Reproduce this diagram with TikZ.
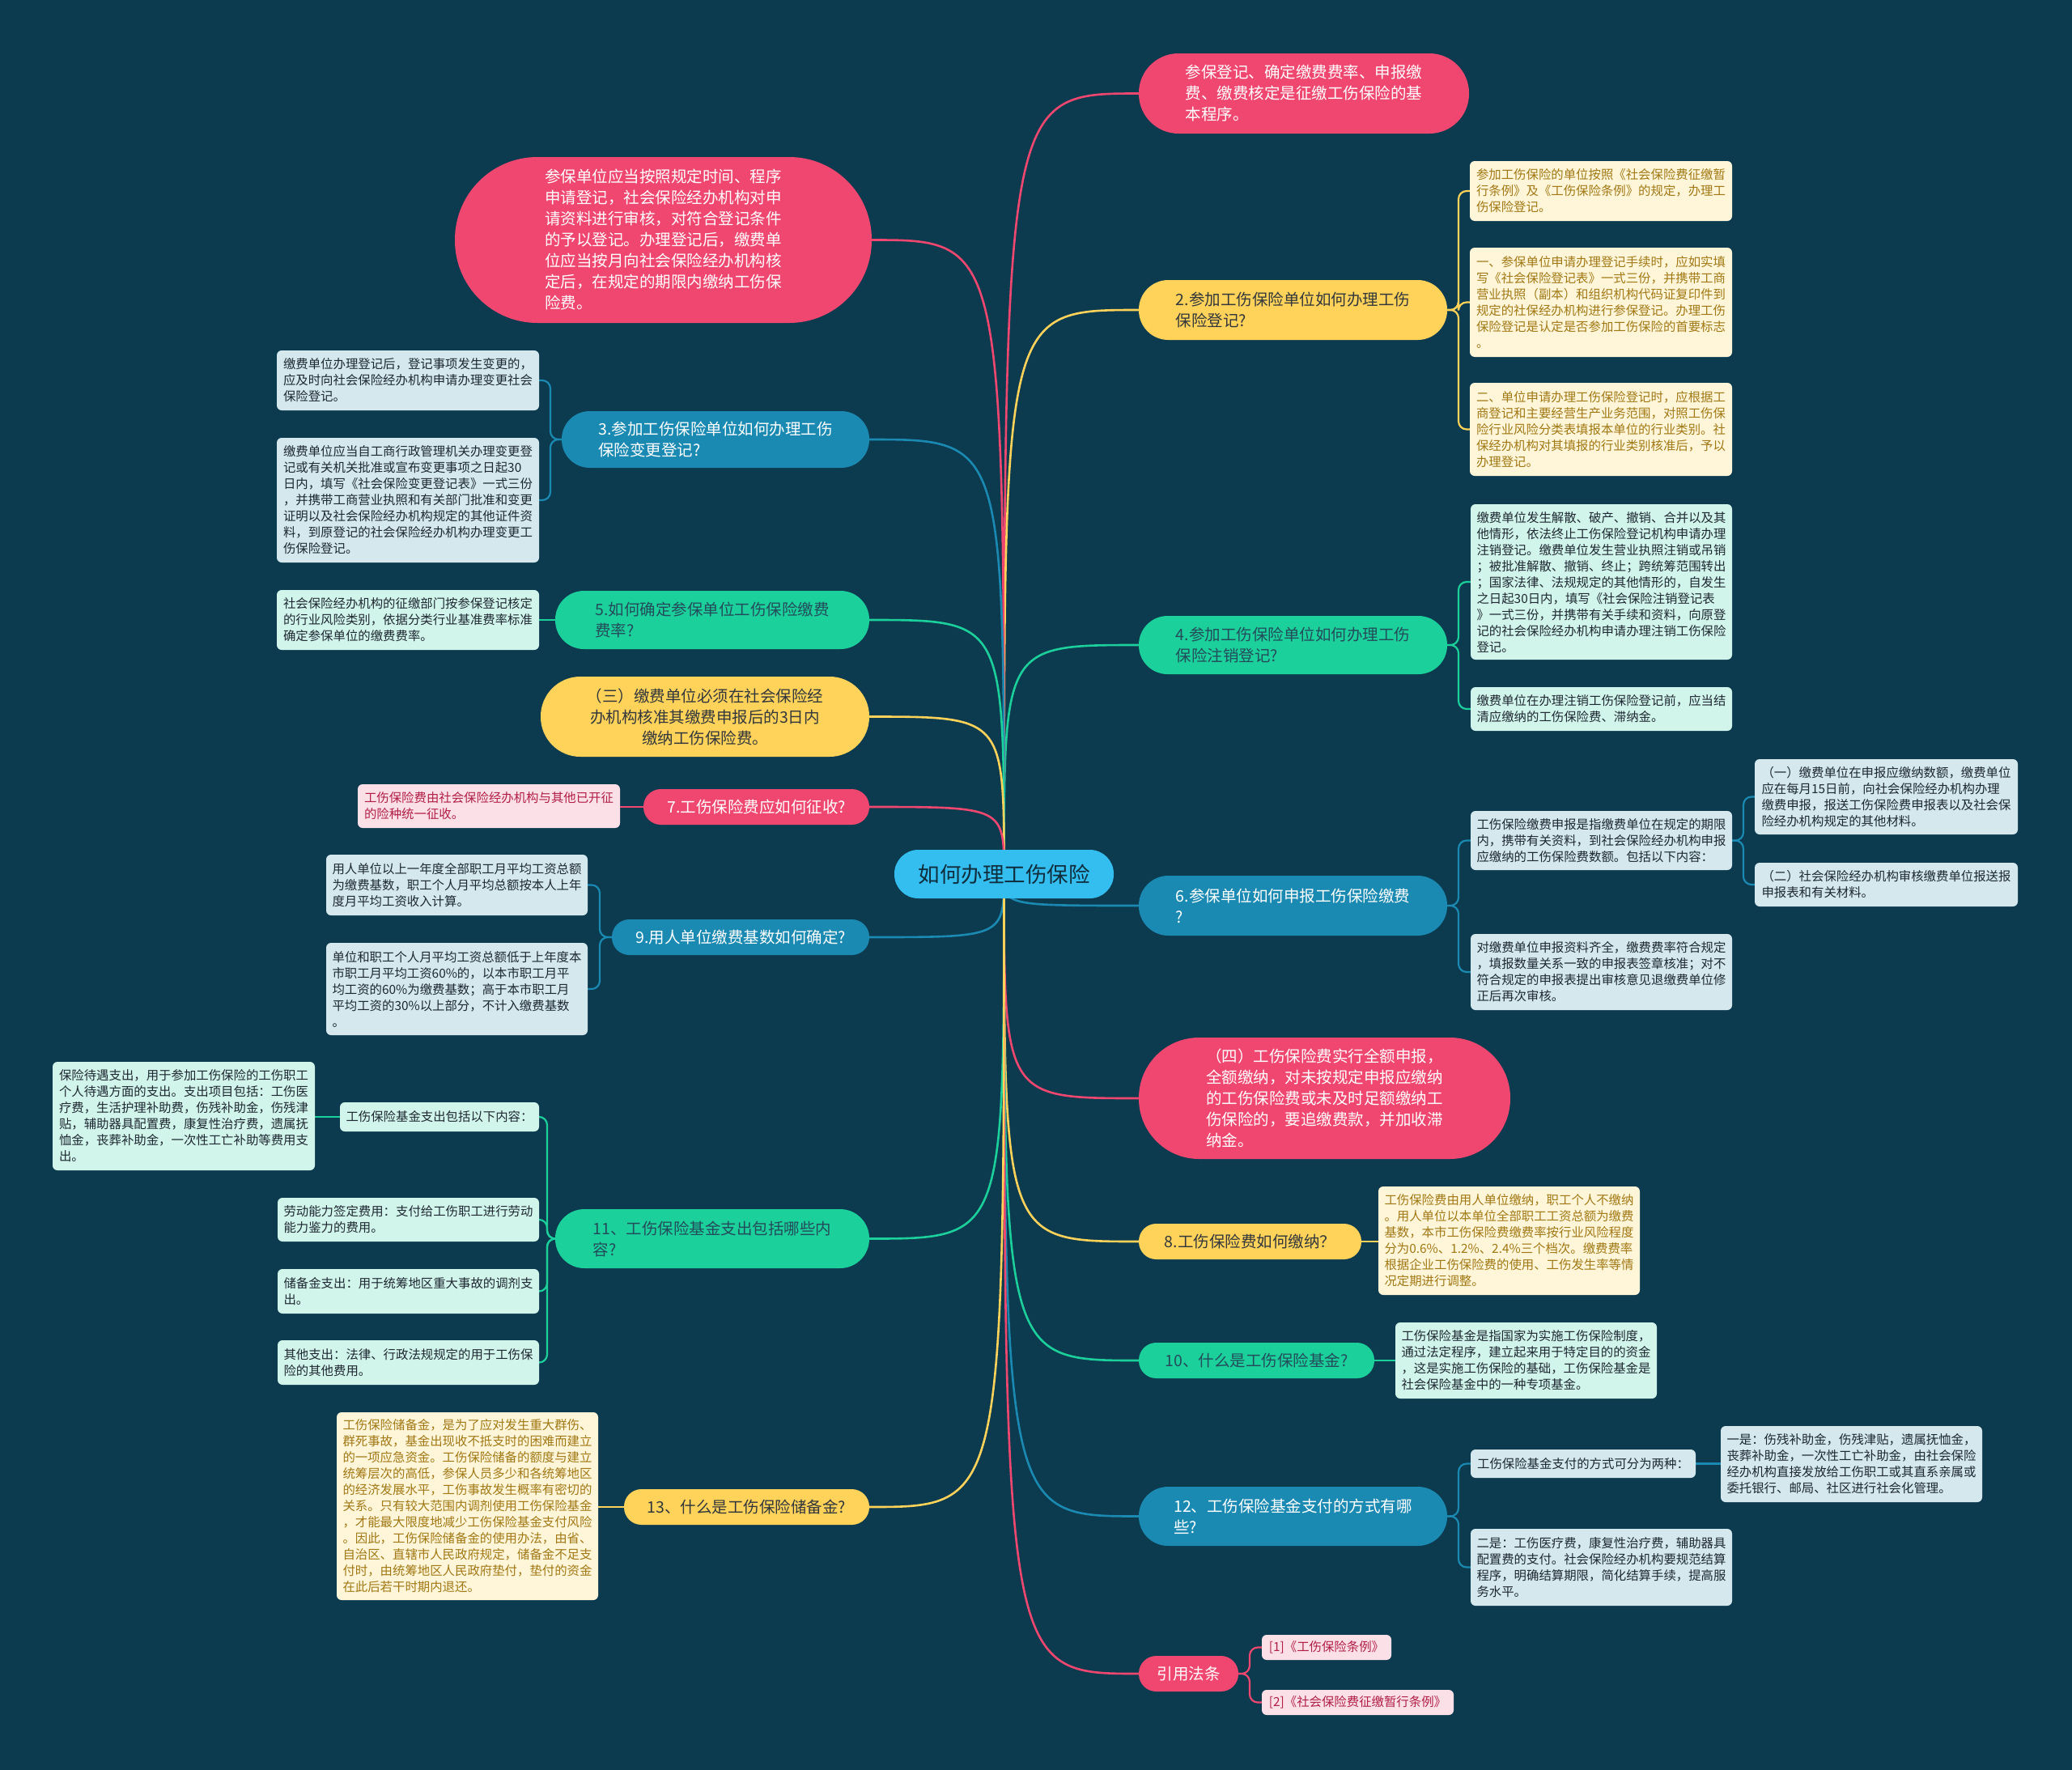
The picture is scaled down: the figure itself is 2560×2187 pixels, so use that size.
\documentclass[tikz,border=0pt]{standalone}
\usepackage{fontspec}
\setmainfont{Noto Sans CJK SC}
\usetikzlibrary{calc}
\pgfdeclarelayer{back}
\pgfdeclarelayer{links}
\pgfsetlayers{back,links,main}
\definecolor{bgc}{RGB}{12,58,78}
\definecolor{pinkc}{RGB}{239,71,111}
\definecolor{yelc}{RGB}{255,210,90}
\definecolor{grnc}{RGB}{28,208,156}
\definecolor{bluc}{RGB}{26,138,178}
\definecolor{rootc}{RGB}{52,190,240}
\definecolor{ynf}{RGB}{255,246,217}
\definecolor{ynt}{RGB}{160,120,20}
\definecolor{gnf}{RGB}{210,245,235}
\definecolor{bnf}{RGB}{212,232,238}
\definecolor{pnf}{RGB}{252,224,232}
\definecolor{pnt}{RGB}{176,30,70}
\definecolor{dtxt}{RGB}{30,40,50}
\definecolor{gtxt}{RGB}{35,75,90}
\definecolor{ytxt}{RGB}{50,55,60}
\definecolor{rtxt}{RGB}{15,45,60}
\tikzset{
 base/.style={inner sep=0pt, outer sep=0pt},
 brf/.style={base, align=left, font=\fontsize{19.5}{26}\selectfont},
 ntf/.style={base, align=left, font=\fontsize{15.4}{20}\selectfont, rounded corners=6pt},
 pinkbr/.style={brf, fill=pinkc, text=white},
 yelbr/.style={brf, fill=yelc, text=ytxt},
 grnbr/.style={brf, fill=grnc, text=gtxt},
 blubr/.style={brf, fill=bluc, text=white},
 rootst/.style={base, align=center, font=\fontsize{26.5}{32}\selectfont, fill=rootc, text=rtxt},
 ynote/.style={ntf, fill=ynf, text=ynt},
 gnote/.style={ntf, fill=gnf, text=dtxt},
 bnote/.style={ntf, fill=bnf, text=dtxt},
 pnote/.style={ntf, fill=pnf, text=pnt},
 mainlk/.style={draw=#1, line width=2.6pt},
 sublk/.style={draw=#1, line width=2.2pt, rounded corners=10pt},
}
\newcommand\mmbox[7]{\node[#1, minimum width={#5-#3}, minimum height={#6-#4}] (#2) at ({(#3+#5)/2},{(#4+#6)/2}) {#7};}
\newcommand\mmpill[7]{\node[#1, minimum width={#5-#3}, minimum height={#6-#4}, rounded corners={(#6-#4)/2-0.5}] (#2) at ({(#3+#5)/2},{(#4+#6)/2}) {#7};}
\begin{document}
\begin{tikzpicture}[x=1pt,y=-1pt]
\begin{pgfonlayer}{back}
\fill[bgc] (0,0) rectangle (2560,2187);
\end{pgfonlayer}
\useasboundingbox (0,0) rectangle (2560,2187);

% root
\mmpill{rootst}{root}{1105}{1050}{1376}{1110}{如何办理工伤保险}

% ---------- right side ----------
\mmpill{pinkbr}{R1}{1407}{66}{1815}{165}{参保登记、确定缴费费率、申报缴\\费、缴费核定是征缴工伤保险的基\\本程序。}

\mmpill{yelbr}{R2}{1407}{346}{1788}{420}{2.参加工伤保险单位如何办理工伤\\保险登记?}
\mmbox{ynote}{R2a}{1816}{199}{2140}{273}{参加工伤保险的单位按照《社会保险费征缴暂\\行条例》及《工伤保险条例》的规定，办理工\\伤保险登记。}
\mmbox{ynote}{R2b}{1816}{306}{2140}{441}{一、参保单位申请办理登记手续时，应如实填\\写《社会保险登记表》一式三份，并携带工商\\营业执照（副本）和组织机构代码证复印件到\\规定的社保经办机构进行参保登记。办理工伤\\保险登记是认定是否参加工伤保险的首要标志\\。}
\mmbox{ynote}{R2c}{1816}{473}{2140}{588}{二、单位申请办理工伤保险登记时，应根据工\\商登记和主要经营生产业务范围，对照工伤保\\险行业风险分类表填报本单位的行业类别。社\\保经办机构对其填报的行业类别核准后，予以\\办理登记。}

\mmpill{grnbr}{R3}{1407}{761}{1788}{833}{4.参加工伤保险单位如何办理工伤\\保险注销登记?}
\mmbox{gnote}{R3a}{1817}{623}{2140}{815}{缴费单位发生解散、破产、撤销、合并以及其\\他情形，依法终止工伤保险登记机构申请办理\\注销登记。缴费单位发生营业执照注销或吊销\\；被批准解散、撤销、终止；跨统筹范围转出\\；国家法律、法规规定的其他情形的，自发生\\之日起30日内，填写《社会保险注销登记表\\》一式三份，并携带有关手续和资料，向原登\\记的社会保险经办机构申请办理注销工伤保险\\登记。}
\mmbox{gnote}{R3b}{1817}{849}{2140}{903}{缴费单位在办理注销工伤保险登记前，应当结\\清应缴纳的工伤保险费、滞纳金。}

\mmpill{blubr}{R4}{1407}{1082}{1788}{1156}{6.参保单位如何申报工伤保险缴费\\?}
\mmbox{bnote}{R4a}{1817}{1002}{2140}{1075}{工伤保险缴费申报是指缴费单位在规定的期限\\内，携带有关资料，到社会保险经办机构申报\\应缴纳的工伤保险费数额。包括以下内容：}
\mmbox{bnote}{R4a1}{2168}{938}{2493}{1031}{（一）缴费单位在申报应缴纳数额，缴费单位\\应在每月15日前，向社会保险经办机构办理\\缴费申报，报送工伤保险费申报表以及社会保\\险经办机构规定的其他材料。}
\mmbox{bnote}{R4a2}{2168}{1066}{2493}{1120}{（二）社会保险经办机构审核缴费单位报送报\\申报表和有关材料。}
\mmbox{bnote}{R4b}{1817}{1154}{2140}{1248}{对缴费单位申报资料齐全，缴费费率符合规定\\，填报数量关系一致的申报表签章核准；对不\\符合规定的申报表提出审核意见退缴费单位修\\正后再次审核。}

\mmpill{pinkbr}{R5}{1407}{1282}{1866}{1432}{（四）工伤保险费实行全额申报，\\全额缴纳，对未按规定申报应缴纳\\的工伤保险费或未及时足额缴纳工\\伤保险的，要追缴费款，并加收滞\\纳金。}

\mmpill{yelbr}{R6}{1407}{1512}{1682}{1556}{8.工伤保险费如何缴纳？}
\mmbox{ynote}{R6a}{1703}{1466}{2026}{1600}{工伤保险费由用人单位缴纳，职工个人不缴纳\\。用人单位以本单位全部职工工资总额为缴费\\基数，本市工伤保险费缴费率按行业风险程度\\分为0.6\%、1.2\%、2.4\%三个档次。缴费费率\\根据企业工伤保险费的使用、工伤发生率等情\\况定期进行调整。}

\mmpill{grnbr}{R7}{1407}{1659}{1698}{1703}{10、什么是工伤保险基金?}
\mmbox{gnote}{R7a}{1724}{1634}{2047}{1728}{工伤保险基金是指国家为实施工伤保险制度，\\通过法定程序，建立起来用于特定目的的资金\\，这是实施工伤保险的基础，工伤保险基金是\\社会保险基金中的一种专项基金。}

\mmpill{blubr}{R8}{1407}{1837}{1788}{1910}{12、工伤保险基金支付的方式有哪\\些?}
\mmbox{bnote}{R8a}{1817}{1791}{2095}{1826}{工伤保险基金支付的方式可分为两种：}
\mmbox{bnote}{R8a1}{2126}{1762}{2449}{1856}{一是：伤残补助金，伤残津贴，遗属抚恤金，\\丧葬补助金，一次性工亡补助金，由社会保险\\经办机构直接发放给工伤职工或其直系亲属或\\委托银行、邮局、社区进行社会化管理。}
\mmbox{bnote}{R8b}{1817}{1889}{2140}{1984}{二是：工伤医疗费，康复性治疗费，辅助器具\\配置费的支付。社会保险经办机构要规范结算\\程序，明确结算期限，简化结算手续，提高服\\务水平。}

\mmpill{pinkbr}{R9}{1407}{2046}{1530}{2090}{引用法条}
\mmbox{pnote}{R9a}{1559}{2020}{1719}{2051}{[1]《工伤保险条例》}
\mmbox{pnote}{R9b}{1559}{2088}{1796}{2119}{[2]《社会保险费征缴暂行条例》}

% ---------- left side ----------
\mmpill{pinkbr}{L1}{562}{194}{1077}{399}{参保单位应当按照规定时间、程序\\申请登记，社会保险经办机构对申\\请资料进行审核，对符合登记条件\\的予以登记。办理登记后，缴费单\\位应当按月向社会保险经办机构核\\定后，在规定的期限内缴纳工伤保\\险费。}

\mmpill{blubr}{L2}{694}{508}{1074}{578}{3.参加工伤保险单位如何办理工伤\\保险变更登记?}
\mmbox{bnote}{L2a}{342}{433}{666}{507}{缴费单位办理登记后，登记事项发生变更的，\\应及时向社会保险经办机构申请办理变更社会\\保险登记。}
\mmbox{bnote}{L2b}{342}{541}{666}{695}{缴费单位应当自工商行政管理机关办理变更登\\记或有关机关批准或宣布变更事项之日起30\\日内，填写《社会保险变更登记表》一式三份\\，并携带工商营业执照和有关部门批准和变更\\证明以及社会保险经办机构规定的其他证件资\\料，到原登记的社会保险经办机构办理变更工\\伤保险登记。}

\mmpill{grnbr}{L3}{686}{730}{1074}{802}{5.如何确定参保单位工伤保险缴费\\费率?}
\mmbox{gnote}{L3a}{342}{729}{666}{803}{社会保险经办机构的征缴部门按参保登记核定\\的行业风险类别，依据分类行业基准费率标准\\确定参保单位的缴费费率。}

\mmpill{yelbr, align=center}{L4}{668}{836}{1074}{935}{（三）缴费单位必须在社会保险经\\办机构核准其缴费申报后的3日内\\缴纳工伤保险费。}

\mmpill{pinkbr}{L5}{795}{975}{1074}{1019}{7.工伤保险费应如何征收?}
\mmbox{pnote}{L5a}{442}{969}{766}{1023}{工伤保险费由社会保险经办机构与其他已开征\\的险种统一征收。}

\mmpill{blubr}{L6}{756}{1136}{1074}{1180}{9.用人单位缴费基数如何确定?}
\mmbox{bnote}{L6a}{403}{1056}{726}{1131}{用人单位以上一年度全部职工月平均工资总额\\为缴费基数，职工个人月平均总额按本人上年\\度月平均工资收入计算。}
\mmbox{bnote}{L6b}{403}{1165}{726}{1279}{单位和职工个人月平均工资总额低于上年度本\\市职工月平均工资60\%的，以本市职工月平\\均工资的60\%为缴费基数；高于本市职工月\\平均工资的30\%以上部分，不计入缴费基数\\。}

\mmpill{grnbr}{L7}{686}{1494}{1074}{1567}{11、工伤保险基金支出包括哪些内\\容?}
\mmbox{gnote}{L7a}{420}{1362}{666}{1398}{工伤保险基金支出包括以下内容：}
\mmbox{gnote}{L7a1}{65}{1312}{389}{1446}{保险待遇支出，用于参加工伤保险的工伤职工\\个人待遇方面的支出。支出项目包括：工伤医\\疗费，生活护理补助费，伤残补助金，伤残津\\贴，辅助器具配置费，康复性治疗费，遗属抚\\恤金，丧葬补助金，一次性工亡补助等费用支\\出。}
\mmbox{gnote}{L7b}{343}{1480}{666}{1534}{劳动能力签定费用：支付给工伤职工进行劳动\\能力鉴力的费用。}
\mmbox{gnote}{L7c}{343}{1568}{666}{1623}{储备金支出：用于统筹地区重大事故的调剂支\\出。}
\mmbox{gnote}{L7d}{343}{1656}{666}{1711}{其他支出：法律、行政法规规定的用于工伤保\\险的其他费用。}

\mmpill{yelbr}{L8}{771}{1840}{1074}{1884}{13、什么是工伤保险储备金?}
\mmbox{ynote}{L8a}{416}{1745}{739}{1977}{工伤保险储备金，是为了应对发生重大群伤、\\群死事故，基金出现收不抵支时的困难而建立\\的一项应急资金。工伤保险储备的额度与建立\\统筹层次的高低，参保人员多少和各统筹地区\\的经济发展水平，工伤事故发生概率有密切的\\关系。只有较大范围内调剂使用工伤保险基金\\，才能最大限度地减少工伤保险基金支付风险\\。因此，工伤保险储备金的使用办法，由省、\\自治区、直辖市人民政府规定，储备金不足支\\付时，由统筹地区人民政府垫付，垫付的资金\\在此后若干时期内退还。}

% ---------- connectors ----------
\begin{pgfonlayer}{links}
% main branches
\draw[mainlk=pinkc] (root.center) .. controls (root.center |- R1.west) .. (R1.west);
\draw[mainlk=yelc] (root.center) .. controls (root.center |- R2.west) .. (R2.west);
\draw[mainlk=grnc] (root.center) .. controls (root.center |- R3.west) .. (R3.west);
\draw[mainlk=bluc] (root.center) .. controls (root.center |- R4.west) .. (R4.west);
\draw[mainlk=pinkc] (root.center) .. controls (root.center |- R5.west) .. (R5.west);
\draw[mainlk=yelc] (root.center) .. controls (root.center |- R6.west) .. (R6.west);
\draw[mainlk=grnc] (root.center) .. controls (root.center |- R7.west) .. (R7.west);
\draw[mainlk=bluc] (root.center) .. controls (root.center |- R8.west) .. (R8.west);
\draw[mainlk=pinkc] (root.center) .. controls (root.center |- R9.west) .. (R9.west);
\draw[mainlk=pinkc] (root.center) .. controls (root.center |- L1.east) .. (L1.east);
\draw[mainlk=bluc] (root.center) .. controls (root.center |- L2.east) .. (L2.east);
\draw[mainlk=grnc] (root.center) .. controls (root.center |- L3.east) .. (L3.east);
\draw[mainlk=yelc] (root.center) .. controls (root.center |- L4.east) .. (L4.east);
\draw[mainlk=pinkc] (root.center) .. controls (root.center |- L5.east) .. (L5.east);
\draw[mainlk=bluc] (root.center) .. controls (root.center |- L6.east) .. (L6.east);
\draw[mainlk=grnc] (root.center) .. controls (root.center |- L7.east) .. (L7.east);
\draw[mainlk=yelc] (root.center) .. controls (root.center |- L8.east) .. (L8.east);
% sub branches right
\draw[sublk=yelc] (R2.east) -- ++(14,0) |- (R2a.west);
\draw[sublk=yelc] (R2.east) -- ++(14,0) |- (R2b.west);
\draw[sublk=yelc] (R2.east) -- ++(14,0) |- (R2c.west);
\draw[sublk=grnc] (R3.east) -- ++(14,0) |- (R3a.west);
\draw[sublk=grnc] (R3.east) -- ++(14,0) |- (R3b.west);
\draw[sublk=bluc] (R4.east) -- ++(14,0) |- (R4a.west);
\draw[sublk=bluc] (R4.east) -- ++(14,0) |- (R4b.west);
\draw[sublk=bluc] (R4a.east) -- ++(14,0) |- (R4a1.west);
\draw[sublk=bluc] (R4a.east) -- ++(14,0) |- (R4a2.west);
\draw[sublk=yelc] (R6.east) -- (R6a.west |- R6.east);
\draw[sublk=grnc] (R7.east) -- (R7a.west |- R7.east);
\draw[sublk=bluc] (R8.east) -- ++(14,0) |- (R8a.west);
\draw[sublk=bluc] (R8.east) -- ++(14,0) |- (R8b.west);
\draw[sublk=bluc] (R8a.east) -- (R8a1.west |- R8a.east);
\draw[sublk=pinkc] (R9.east) -- ++(14,0) |- (R9a.west);
\draw[sublk=pinkc] (R9.east) -- ++(14,0) |- (R9b.west);
% sub branches left
\draw[sublk=bluc] (L2.west) -- ++(-14,0) |- (L2a.east);
\draw[sublk=bluc] (L2.west) -- ++(-14,0) |- (L2b.east);
\draw[sublk=grnc] (L3.west) -- (L3a.east |- L3.west);
\draw[sublk=pinkc] (L5.west) -- (L5a.east |- L5.west);
\draw[sublk=bluc] (L6.west) -- ++(-15,0) |- (L6a.east);
\draw[sublk=bluc] (L6.west) -- ++(-15,0) |- (L6b.east);
\draw[sublk=grnc] (L7.west) -- ++(-10,0) |- (L7a.east);
\draw[sublk=grnc] (L7.west) -- ++(-10,0) |- (L7b.east);
\draw[sublk=grnc] (L7.west) -- ++(-10,0) |- (L7c.east);
\draw[sublk=grnc] (L7.west) -- ++(-10,0) |- (L7d.east);
\draw[sublk=grnc] (L7a.west) -- (L7a1.east |- L7a.west);
\draw[sublk=yelc] (L8.west) -- (L8a.east |- L8.west);
\end{pgfonlayer}
\end{tikzpicture}
\end{document}
